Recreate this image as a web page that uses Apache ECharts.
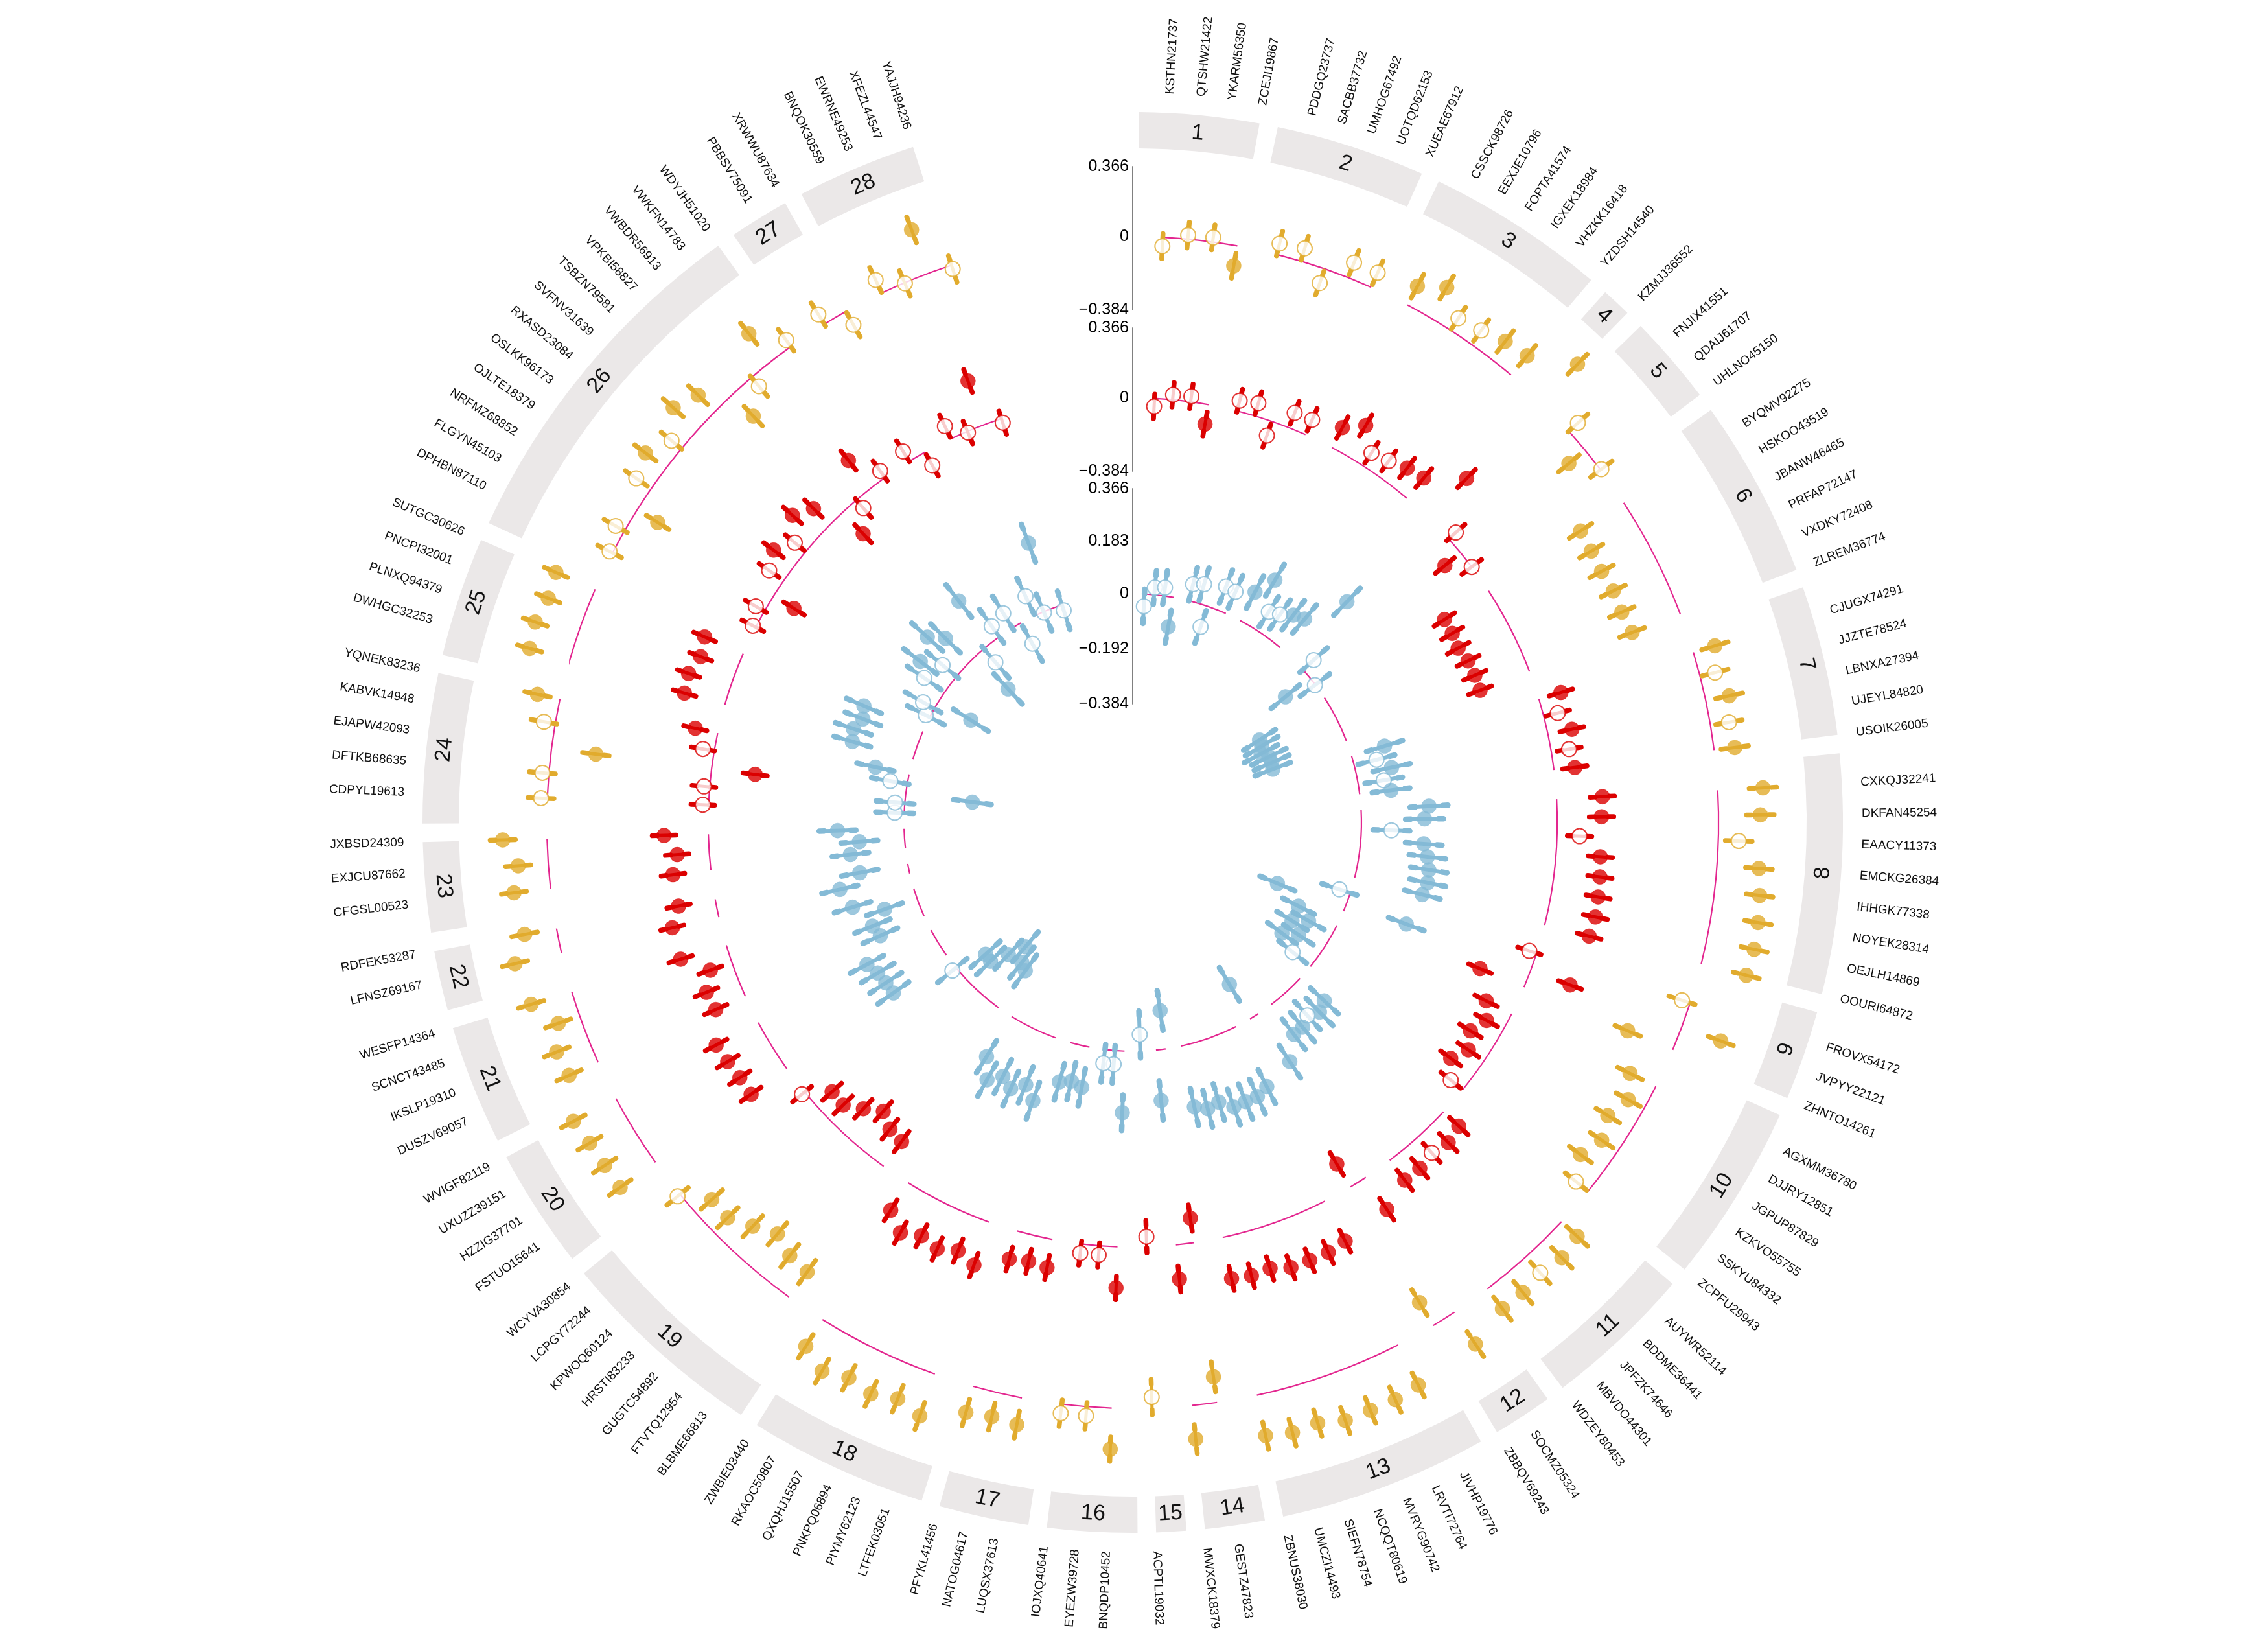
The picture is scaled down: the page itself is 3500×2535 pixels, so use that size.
<!DOCTYPE html>
<html><head><meta charset="utf-8">
<script src="https://cdn.jsdelivr.net/npm/echarts@6/dist/echarts.min.js"></script>
<style>html,body{margin:0;padding:0;background:#fff}#chart{width:3500px;height:2535px}</style>
</head><body><div id="chart"></div>
<script>
// ---------------- DATA ----------------
const sectorNames = ['1','2','3','4','5','6','7','8','9','10','11','12','13','14','15','16','17','18','19','20','21','22','23','24','25','26','27','28'];
const sectorItems = [
 ['KSTHN21737','QTSHW21422','YKARM56350','ZCEJI19867'],
 ['PDDGQ23737','SACBB37732','UMHOG67492','UOTQD62153','XUEAE67912'],
 ['CSSCK98726','EEXJE10796','FOPTA41574','IGXEK18984','VHZKK16418','YZDSH14540'],
 ['KZMJJ36552'],
 ['FNJIX41551','QDAIJ61707','UHLNO45150'],
 ['BYQMV92275','HSKOO43519','JBANW46465','PRFAP72147','VXDKY72408','ZLREM36774'],
 ['CJUGX74291','JJZTE78524','LBNXA27394','UJEYL84820','USOIK26005'],
 ['CXKQJ32241','DKFAN45254','EAACY11373','EMCKG26384','IHHGK77338','NOYEK28314','OEJLH14869','OOURI64872'],
 ['FROVX54172','JVPYY22121','ZHNTO14261'],
 ['AGXMM36780','DJJRY12851','JGPUP87829','KZKVO55755','SSKYU84332','ZCPFU29943'],
 ['AUYWR52114','BDDME36441','JPFZK74646','MBVDO44301','WDZEY80453'],
 ['SOCMZ05324','ZBBQV69243'],
 ['JIVHP19776','LRVTI72764','MVRYG90742','NCQQT80619','SIEFN78754','UMCZI14493','ZBNUS38030'],
 ['GESTZ47823','MWXCK18379'],
 ['ACPTL19032'],
 ['BNQDP10452','EYEZW39728','IOJXQ40641'],
 ['LUQSX37613','NATOG04617','PFYKL41456'],
 ['LTFEK03051','PIYMY62123','PNKPQ06894','QXQHJ15507','RKAOC50807','ZWBIE03440'],
 ['BLBME66813','FTVTQ12954','GUGTC54892','HRSTI83233','KPWOQ60124','LCPGY72244','WCYVA30854'],
 ['FSTUO15641','HZZIG37701','UXUZZ39151','WVIGF82119'],
 ['DUSZV69057','IKSLP19310','SCNCT43485','WESFP14364'],
 ['LFNSZ69167','RDFEK53287'],
 ['CFGSL00523','EXJCU87662','JXBSD24309'],
 ['CDPYL19613','DFTKB68635','EJAPW42093','KABVK14948','YQNEK83236'],
 ['DWHGC32253','PLNXQ94379','PNCPI32001','SUTGC30626'],
 ['DPHBN87110','FLGYN45103','NRFMZ68852','OJLTE18379','OSLKK96173','RXASD23084','SVFNV31639','TSBZN79581','VPKBI58827','VWBDR56913','VWKFN14783','WDYJH51020'],
 ['PBBSV75091','XRWWU87634'],
 ['BNQOK30559','EWRNE49253','XFEZL44547','YAJJH94236']
];
// 1 = filled point, 0 = hollow point (same in all three rings)
const filledFlags = [
 [0,0,0,1],[0,0,0,0,0],[1,1,0,0,1,1],[1],[0,1,0],[1,1,1,1,1,1],[1,0,1,0,1],[1,1,0,1,1,1,1,1],
 [0,1,1],[1,1,1,1,1,0],[1,1,0,1,1],[1,1],[1,1,1,1,1,1,1],[1,1],[0],[1,0,0],[1,1,1],[1,1,1,1,1,1],
 [1,1,1,1,1,1,0],[1,1,1,1],[1,1,1,1],[1,1],[1,1,1],[0,0,1,0,1],[1,1,1,1],
 [0,0,1,0,1,0,1,1,1,0,1,0],[0,0],[0,0,1,0]
];
const orangeValues = [
 [-0.047,0.021,0.024,-0.106],[0.059,0.070,-0.079,0.084,0.083],[0.111,0.180,0.075,0.089,0.118,0.132],[0.276],
 [0.064,-0.110,0.005],[-0.270,-0.278,-0.283,-0.275,-0.280,-0.270],[0.118,0.081,0.125,0.098,0.109],
 [0.237,0.219,0.107,0.220,0.237,0.248,0.253,0.243],[-0.045,0.217,-0.256],[-0.151,-0.095,-0.145,-0.102,-0.149,-0.081],
 [0.112,0.133,0.112,0.131,0.130],[0.200,-0.140],[0.235,0.252,0.252,0.255,0.222,0.234,0.217],[-0.135,0.177],[-0.058],
 [0.215,0.048,0.048],[0.143,0.129,0.142],[0.233,0.190,0.223,0.197,0.233,0.165],[-0.162,-0.175,-0.222,-0.165,-0.105,-0.109,0.016],
 [0.227,0.229,0.235,0.253],[0.167,0.179,0.119,0.223],[0.250,0.170],[0.193,0.158,0.232],[0.033,0.034,-0.234,0.060,0.120],
 [0.219,0.232,0.210,0.224],[0.017,0.053,-0.126,0.095,0.134,0.067,0.173,0.123,-0.157,-0.060,0.186,0.042],[0.060,-0.080],
 [0.075,-0.004,0.244,-0.021]
];
const redValues = [
 [-0.042,0.026,0.029,-0.103],[0.055,0.069,-0.079,0.083,0.085],[0.118,0.187,0.081,0.097,0.124,0.138],[0.287],
 [0.050,-0.106,0.000],[-0.275,-0.279,-0.290,-0.274,-0.273,-0.277],[0.120,0.075,0.128,0.094,0.110],
 [0.240,0.232,0.118,0.232,0.240,0.245,0.250,0.240],[-0.040,0.220,-0.250],[-0.150,-0.100,-0.145,-0.100,-0.150,-0.080],
 [0.110,0.130,0.110,0.130,0.130],[0.200,-0.140],[0.235,0.250,0.250,0.250,0.220,0.230,0.220],[-0.130,0.180],[-0.053],
 [0.215,0.048,0.048],[0.150,0.138,0.152],[0.239,0.198,0.233,0.207,0.245,0.170],[-0.160,-0.175,-0.225,-0.165,-0.105,-0.110,0.018],
 [0.230,0.230,0.240,0.250],[0.170,0.180,0.120,0.250],[0.250,0.195],[0.200,0.168,0.232],[0.030,0.030,-0.230,0.060,0.120],
 [0.220,0.230,0.200,0.220],[0.017,0.052,-0.125,0.093,0.137,0.074,0.177,0.121,-0.155,-0.055,0.187,0.043],[0.062,-0.079],
 [0.073,-0.007,0.244,-0.022]
];
const blueValues = [
 [-0.043,0.025,0.029,-0.104],[0.059,0.069,-0.076,0.087,0.083],[0.112,0.182,0.077,0.091,0.117,0.131],[0.275],
 [0.050,-0.108,-0.002],[-0.270,-0.275,-0.290,-0.270,-0.270,-0.275],[0.120,0.080,0.125,0.090,0.110],
 [0.237,0.220,0.105,0.220,0.237,0.248,0.252,0.243],[-0.040,0.220,-0.250],[-0.150,-0.095,-0.145,-0.100,-0.150,-0.080],
 [0.115,0.130,0.110,0.130,0.130],[0.200,-0.140],[0.235,0.252,0.252,0.255,0.222,0.234,0.217],[-0.135,0.177],[-0.058],
 [0.215,0.048,0.048],[0.143,0.129,0.142],[0.233,0.190,0.223,0.197,0.233,0.165],[-0.159,-0.175,-0.225,-0.165,-0.105,-0.109,0.016],
 [0.227,0.229,0.235,0.253],[0.167,0.179,0.119,0.223],[0.250,0.170],[0.193,0.158,0.232],[0.033,0.034,-0.234,0.060,0.120],
 [0.220,0.230,0.210,0.224],[0.015,0.045,-0.130,0.087,0.132,0.063,0.167,0.118,-0.161,-0.062,0.184,0.045],[0.060,-0.083],
 [0.075,-0.003,0.242,-0.020]
];
// half-widths of the error bars
const orangeErr = [
 [0.066,0.068,0.066,0.066],[0.066,0.066,0.066,0.068,0.068],[0.070,0.070,0.068,0.068,0.070,0.070],[0.072],
 [0.070,0.070,0.070],[0.070,0.070,0.070,0.070,0.070,0.070],[0.072,0.070,0.072,0.070,0.072],
 [0.072,0.072,0.070,0.070,0.070,0.070,0.070,0.070],[0.072,0.070,0.072],[0.072,0.072,0.072,0.072,0.072,0.072],
 [0.075,0.075,0.075,0.075,0.075],[0.078,0.078],[0.070,0.072,0.072,0.072,0.072,0.072,0.072],[0.079,0.076],[0.093],
 [0.064,0.070,0.070],[0.072,0.072,0.072],[0.075,0.075,0.072,0.072,0.072,0.072],[0.075,0.075,0.075,0.075,0.075,0.075,0.072],
 [0.070,0.070,0.070,0.070],[0.070,0.070,0.070,0.070],[0.068,0.068],[0.066,0.066,0.066],[0.068,0.068,0.070,0.068,0.068],
 [0.066,0.066,0.066,0.066],[0.070,0.070,0.070,0.070,0.070,0.070,0.070,0.070,0.070,0.070,0.070,0.070],[0.072,0.072],
 [0.072,0.072,0.072,0.072]
];
const redErr = [
 [0.064,0.064,0.064,0.064],[0.062,0.062,0.064,0.064,0.064],[0.064,0.064,0.064,0.064,0.064,0.064],[0.066],
 [0.064,0.064,0.064],[0.064,0.064,0.064,0.064,0.064,0.064],[0.064,0.064,0.064,0.064,0.064],
 [0.064,0.064,0.064,0.064,0.064,0.064,0.064,0.064],[0.064,0.064,0.064],[0.066,0.066,0.066,0.066,0.066,0.066],
 [0.066,0.066,0.066,0.066,0.066],[0.068,0.068],[0.064,0.064,0.064,0.064,0.064,0.064,0.064],[0.070,0.068],[0.085],
 [0.062,0.064,0.064],[0.064,0.064,0.064],[0.066,0.066,0.064,0.064,0.064,0.064],[0.066,0.066,0.066,0.066,0.066,0.066,0.064],
 [0.064,0.064,0.064,0.064],[0.064,0.064,0.064,0.064],[0.062,0.062],[0.062,0.062,0.062],[0.062,0.062,0.064,0.062,0.062],
 [0.062,0.062,0.062,0.062],[0.064,0.064,0.064,0.064,0.064,0.064,0.064,0.064,0.064,0.064,0.064,0.064],[0.064,0.064],
 [0.064,0.064,0.064,0.064]
];
const blueErr = [
 [0.060,0.059,0.059,0.058],[0.060,0.060,0.060,0.062,0.062],[0.064,0.064,0.062,0.062,0.064,0.064],[0.066],
 [0.064,0.064,0.064],[0.066,0.066,0.066,0.066,0.066,0.066],[0.066,0.066,0.066,0.066,0.066],
 [0.066,0.066,0.064,0.064,0.064,0.064,0.064,0.064],[0.064,0.066,0.066],[0.062,0.062,0.062,0.062,0.062,0.062],
 [0.066,0.066,0.066,0.066,0.066],[0.068,0.068],[0.066,0.066,0.066,0.066,0.066,0.066,0.066],[0.070,0.068],[0.082],
 [0.062,0.066,0.066],[0.066,0.066,0.066],[0.068,0.068,0.066,0.066,0.066,0.066],[0.068,0.068,0.068,0.068,0.068,0.068,0.066],
 [0.066,0.066,0.066,0.066],[0.066,0.066,0.066,0.066],[0.064,0.064],[0.064,0.064,0.064],[0.066,0.066,0.066,0.066,0.066],
 [0.066,0.066,0.066,0.066],[0.072,0.072,0.072,0.072,0.072,0.072,0.073,0.072,0.072,0.072,0.072,0.072],[0.070,0.070],
 [0.070,0.070,0.070,0.070]
];
const outerTicks = [-0.384, 0, 0.366];
const innerTicks = [-0.384, -0.192, 0, 0.183, 0.366];
const valueRange = [-0.384, 0.366];
const referenceValue = 0;   // magenta reference arc in every sector

// ---------------- LAYOUT / STYLE ----------------
const FONT = '"Liberation Sans", Arial, Helvetica, sans-serif';
const L = {center:[1748,1269], ring:[1040,1096], labelR:1125, startGap:0.5, step:2.447, gap:1.5};
const trackDefs = [
  {values:orangeValues, err:orangeErr, color:'#E1AB2D', radius:[791,1012], ticks:outerTicks, bar:5},
  {values:redValues,    err:redErr,    color:'#DB0000', radius:[542,763],  ticks:outerTicks, bar:5},
  {values:blueValues,   err:blueErr,   color:'#84BAD6', radius:[183,515],  ticks:innerTicks, bar:6}
];
const PINK = '#E3268F';

// angular layout of sectors / items (index based, like a category axis)
let cum = 0; const sectors = [], items = [];
sectorItems.forEach((names, k) => {
  const start = L.startGap + L.step*cum + L.gap*k;
  const angles = names.map((_, i) => start + L.step*(i+1));
  sectors.push({label:sectorNames[k], start, end:start + L.step*names.length, first:angles[0], last:angles[angles.length-1], n:names.length});
  names.forEach((nm, i) => items.push({name:nm, angle:angles[i]}));
  cum += names.length;
});
const flatFilled = filledFlags.flat();

function scrAngle(p, cs){ return Math.atan2(p[1]-cs.cy, p[0]-cs.cx); }
function fmt(v){ return v < 0 ? '\u2212' + Math.abs(v) : String(v); }

const polar = trackDefs.map(t => ({center:L.center, radius:t.radius})).concat([{center:L.center, radius:L.ring}]);
const hiddenAngle = i => ({polarIndex:i, type:'value', min:0, max:360, startAngle:90, clockwise:true,
  axisLine:{show:false}, axisTick:{show:false}, axisLabel:{show:false}, splitLine:{show:false}, splitArea:{show:false}});
const angleAxis = [0,1,2,3].map(hiddenAngle);
const radiusAxis = trackDefs.map((t, i) => ({polarIndex:i, type:'value', min:valueRange[0], max:valueRange[1],
  axisLine:{show:true, lineStyle:{color:'#808080', width:2}}, axisTick:{show:false}, splitLine:{show:false},
  axisLabel:{show:true, customValues:t.ticks, formatter:fmt, fontSize:25, color:'#000', margin:6, fontFamily:FONT}
})).concat([{polarIndex:3, type:'value', min:0, max:1, show:false, axisLine:{show:false}, axisLabel:{show:false}, axisTick:{show:false}, splitLine:{show:false}}]);

const series = [];
// ring boxes + sector numbers
series.push({type:'custom', coordinateSystem:'polar', polarIndex:3, silent:true, z:1,
  encode:{radius:0, angle:1},
  data: sectors.map(s => [0.5, s.start, s.end]),
  renderItem(params, api){
    const cs = params.coordSys, s = sectors[params.dataIndex];
    const pa = api.coord([1, s.start]), pb = api.coord([1, s.end]);
    let a0 = scrAngle(pa, cs), a1 = scrAngle(pb, cs);
    if (a1 < a0) a1 += 2*Math.PI;
    const pm = api.coord([0.5, (s.start + s.end)/2]);
    let th = scrAngle(pm, cs) + Math.PI/2; if (th < 0) th += 2*Math.PI;
    const deg = th*180/Math.PI;
    const rot = (deg > 90 && deg < 270) ? Math.PI - th : -th;
    return {type:'group', children:[
      {type:'sector', shape:{cx:cs.cx, cy:cs.cy, r0:cs.r0, r:cs.r, startAngle:a0, endAngle:a1, clockwise:true}, style:{fill:'#EBE8E8'}},
      {type:'text', x:pm[0], y:pm[1], rotation:rot, style:{text:s.label, fontSize:34, fill:'#111', align:'center', verticalAlign:'middle', fontFamily:FONT}}
    ]};
  }
});
// item labels
series.push({type:'custom', coordinateSystem:'polar', polarIndex:3, silent:true, z:1,
  encode:{radius:0, angle:1},
  data: items.map(it => [1, it.angle]),
  renderItem(params, api){
    const cs = params.coordSys, it = items[params.dataIndex];
    const p = api.coord([1, it.angle]);
    const dx = p[0]-cs.cx, dy = p[1]-cs.cy, rr = Math.hypot(dx, dy), k = L.labelR/rr;
    let deg = Math.atan2(dx, -dy)*180/Math.PI; if (deg < 0) deg += 360;
    const right = deg < 180;
    const rot = (right ? 90 - deg : 270 - deg)*Math.PI/180;
    return {type:'text', x:cs.cx + dx*k, y:cs.cy + dy*k, rotation:rot,
      style:{text:it.name, fontSize:19, fill:'#111', align:right ? 'left' : 'right', verticalAlign:'middle', fontFamily:FONT}};
  }
});

trackDefs.forEach((t, ti) => {
  const vals = t.values.flat(), errs = t.err.flat();
  // magenta reference arcs
  series.push({type:'custom', coordinateSystem:'polar', polarIndex:ti, silent:true, z:2,
    encode:{radius:0, angle:1},
    data: sectors.filter(s => s.n > 1).map(s => [referenceValue, s.first, s.last]),
    renderItem(params, api){
      const cs = params.coordSys;
      const p0 = api.coord([api.value(0), api.value(1)]), p1 = api.coord([api.value(0), api.value(2)]);
      const r = Math.hypot(p0[0]-cs.cx, p0[1]-cs.cy);
      let a0 = scrAngle(p0, cs), a1 = scrAngle(p1, cs);
      if (a1 < a0) a1 += 2*Math.PI;
      return {type:'arc', shape:{cx:cs.cx, cy:cs.cy, r:r, startAngle:a0, endAngle:a1, clockwise:true},
        style:{stroke:PINK, lineWidth:2.2, fill:null}};
    }
  });
  // error bars
  series.push({type:'custom', coordinateSystem:'polar', polarIndex:ti, silent:true, z:3,
    encode:{radius:0, angle:1},
    data: items.map((it, j) => [vals[j], it.angle, errs[j]]),
    renderItem(params, api){
      const v = api.value(0), a = api.value(1), e = api.value(2);
      const p0 = api.coord([v - e, a]), p1 = api.coord([v + e, a]);
      const len = Math.hypot(p1[0]-p0[0], p1[1]-p0[1]);
      const ux = (p1[0]-p0[0])/len, uy = (p1[1]-p0[1])/len, c = 8;
      return {type:'group', children:[
        {type:'line', shape:{x1:p0[0], y1:p0[1], x2:p1[0], y2:p1[1]}, style:{stroke:t.color, lineWidth:t.bar, lineCap:'round'}},
        {type:'line', shape:{x1:p0[0], y1:p0[1], x2:p0[0]+ux*c, y2:p0[1]+uy*c}, style:{stroke:t.color, lineWidth:t.bar+2.5, lineCap:'round'}},
        {type:'line', shape:{x1:p1[0], y1:p1[1], x2:p1[0]-ux*c, y2:p1[1]-uy*c}, style:{stroke:t.color, lineWidth:t.bar+2.5, lineCap:'round'}}
      ]};
    }
  });
  // points
  series.push({type:'scatter', coordinateSystem:'polar', polarIndex:ti, silent:true, z:4, symbol:'circle', symbolSize:23,
    data: items.map((it, j) => ({value:[vals[j], it.angle],
      itemStyle: flatFilled[j] ? {color:t.color, borderColor:t.color, borderWidth:0.5} : {color:'#ffffff', borderColor:t.color, borderWidth:2}}))
  });
});

const chart = echarts.init(document.getElementById('chart'), null, {renderer:'canvas', width:3500, height:2535});
chart.setOption({backgroundColor:'#ffffff', animation:false, polar, angleAxis, radiusAxis, series});
</script>
</body></html>
